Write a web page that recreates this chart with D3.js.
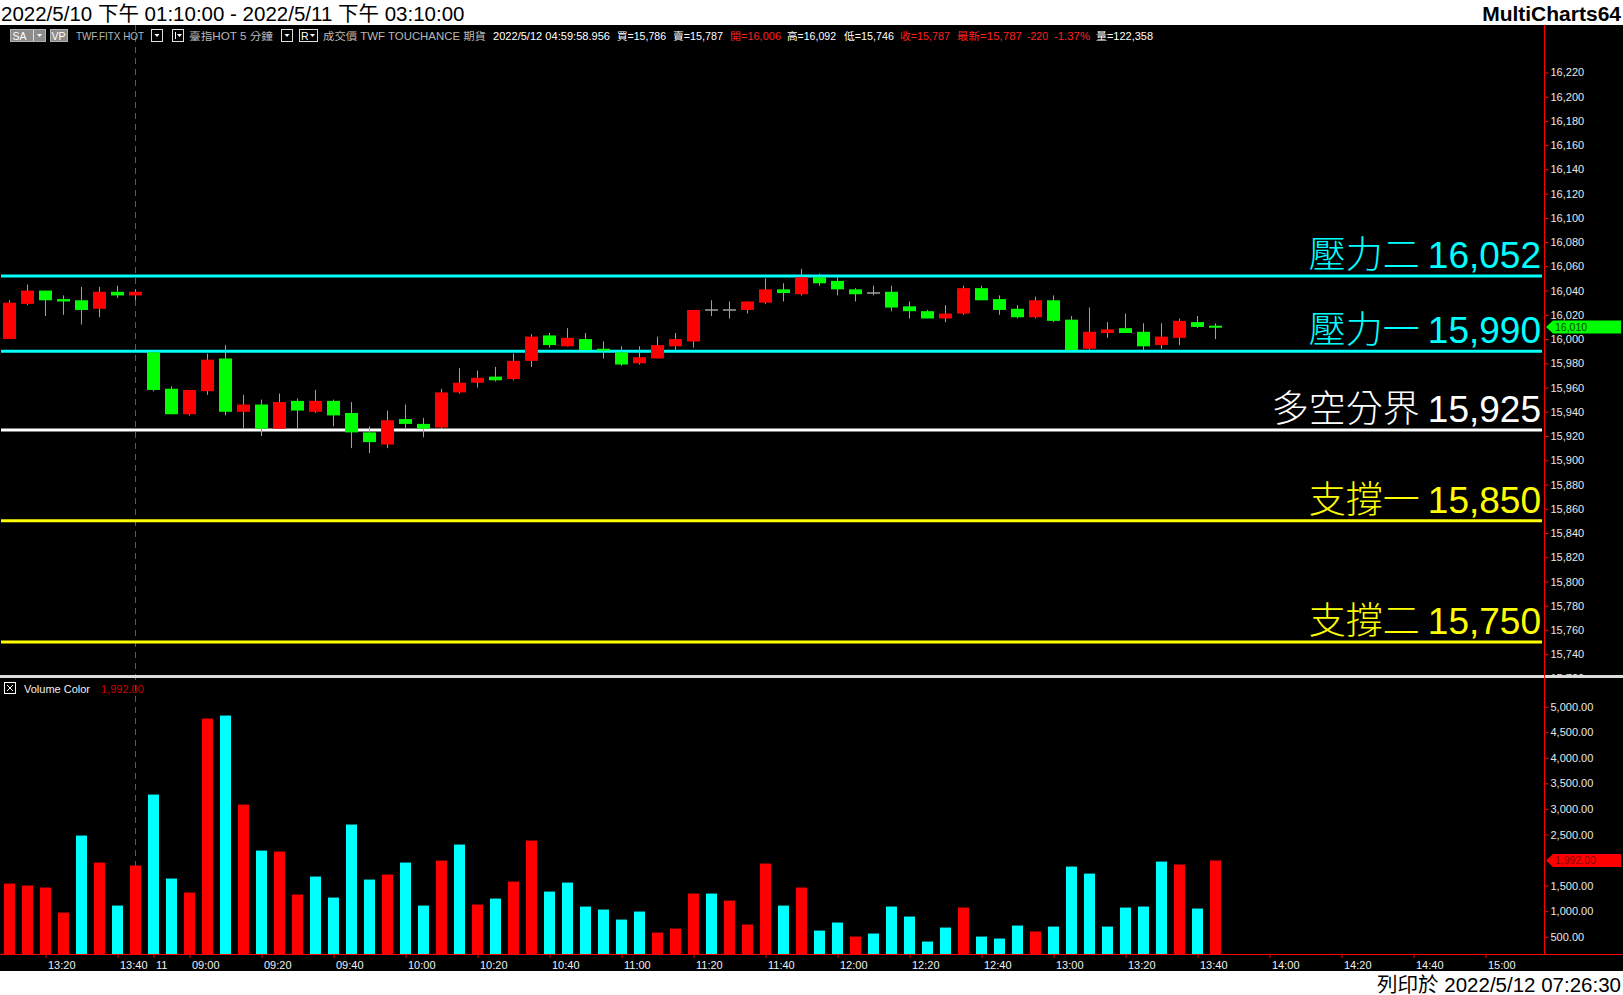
<!DOCTYPE html>
<html><head><meta charset="utf-8">
<script src="https://cdn.jsdelivr.net/npm/d3@7"></script>
<style>
html,body{margin:0;padding:0;background:#fff;overflow:hidden;}
svg{display:block;}
text{font-family:"Liberation Sans","Noto Sans CJK TC",Arial,sans-serif;}
</style></head><body>
<svg id="chart" width="1623" height="995"></svg>
<script>
// ---------------- DATA ----------------
const barTimes = [
 "5/10 13:10","5/10 13:15","5/10 13:20","5/10 13:25","5/10 13:30","5/10 13:35","5/10 13:40","5/10 13:45",
 "5/11 08:50","5/11 08:55","5/11 09:00","5/11 09:05","5/11 09:10","5/11 09:15","5/11 09:20","5/11 09:25",
 "5/11 09:30","5/11 09:35","5/11 09:40","5/11 09:45","5/11 09:50","5/11 09:55","5/11 10:00","5/11 10:05",
 "5/11 10:10","5/11 10:15","5/11 10:20","5/11 10:25","5/11 10:30","5/11 10:35","5/11 10:40","5/11 10:45",
 "5/11 10:50","5/11 10:55","5/11 11:00","5/11 11:05","5/11 11:10","5/11 11:15","5/11 11:20","5/11 11:25",
 "5/11 11:30","5/11 11:35","5/11 11:40","5/11 11:45","5/11 11:50","5/11 11:55","5/11 12:00","5/11 12:05",
 "5/11 12:10","5/11 12:15","5/11 12:20","5/11 12:25","5/11 12:30","5/11 12:35","5/11 12:40","5/11 12:45",
 "5/11 12:50","5/11 12:55","5/11 13:00","5/11 13:05","5/11 13:10","5/11 13:15","5/11 13:20","5/11 13:25",
 "5/11 13:30","5/11 13:35","5/11 13:40","5/11 13:45"];
const futureSlots = [
 "5/11 13:50","5/11 13:55","5/11 14:00","5/11 14:05","5/11 14:10","5/11 14:15","5/11 14:20","5/11 14:25",
 "5/11 14:30","5/11 14:35","5/11 14:40","5/11 14:45","5/11 14:50","5/11 14:55","5/11 15:00","5/11 15:05","5/11 15:10"];

const openPrices = [16000,16029,16040,16033,16032,16025,16039,16036,
 15989,15959,15938,15957,15984,15940,15946,15926,15949,15940,15949,15939,15923,15913,15934,15930,15927,15956,15964,15969,
 15967,15982,16003,15994,16000,15992,15989,15980,15984,15994,15998,16024,16024,16024,16030,16041,16037,16051,16048,16041,
 16038,16039,16027,16023,16017,16021,16042,16033,16025,16018,16032,16016,15992,16005,16009,16006,15995,16001,16014,16011];
const highPrices = [16032,16045,16040,16036,16043,16043,16044,16041,
 15990,15961,15958,15988,15995,15954,15950,15955,15951,15958,15950,15948,15928,15941,15946,15935,15959,15976,15974,15977,
 15988,16004,16005,16009,16005,15998,15994,15994,16002,16005,16024,16032,16031,16031,16050,16046,16058,16054,16051,16042,
 16044,16044,16031,16024,16028,16044,16044,16036,16028,16035,16036,16019,16026,16014,16021,16013,16013,16017,16019,16013];
const lowPrices = [16000,16028,16019,16020,16012,16018,16034,16032,
 15957,15938,15937,15954,15937,15926,15920,15926,15926,15939,15928,15910,15906,15910,15926,15919,15926,15955,15960,15965,
 15966,15977,15993,15994,15991,15984,15978,15979,15984,15991,15993,16019,16017,16021,16029,16031,16036,16044,16036,16031,
 16036,16023,16017,16017,16014,16020,16032,16020,16017,16017,16014,15990,15991,16001,16005,15991,15992,15995,16009,16000];
const closePrices = [16030,16040,16032,16031,16024,16039,16036,16039,
 15958,15938,15958,15983,15940,15946,15926,15948,15941,15949,15937,15923,15915,15933,15930,15926,15956,15964,15968,15966,
 15982,16002,15995,16001,15991,15991,15979,15985,15995,16000,16024,16024,16024,16031,16041,16038,16051,16046,16041,16037,
 16038,16026,16023,16017,16021,16042,16032,16024,16018,16032,16015,15991,16006,16008,16005,15994,16002,16015,16010,16010];

const volumes = [1540,1501,1462,972,2479,1951,1109,1892,
 3281,1638,1364,4768,4827,3085,2185,2166,1325,1677,1266,2694,1618,1716,1951,1109,1990,2303,1129,1246,
 1579,2381,1383,1559,1090,1031,835,992,581,659,1344,1344,1207,738,1931,1109,1462,620,777,503,
 562,1090,894,405,679,1070,503,464,718,601,698,1872,1735,698,1070,1090,1970,1912,1051,1992];
// volume colour flags: 1 = red, 0 = cyan
const volumeRed = [1,1,1,1,0,1,0,1,
 0,0,1,1,0,1,0,1,1,0,0,0,0,1,0,0,1,0,1,0,
 1,1,0,0,0,0,0,0,1,1,1,0,1,1,1,0,1,0,0,1,
 0,0,0,0,0,1,0,0,0,1,0,0,0,0,0,0,0,1,0,1];

const levelValues = [16052, 15990, 15925, 15850, 15750];
const levelNames  = ["壓力二", "壓力一", "多空分界", "支撐一", "支撐二"];
const levelColors = ["#00ffff", "#00ffff", "#ffffff", "#ffff00", "#ffff00"];

const priceTicks = [15720,15740,15760,15780,15800,15820,15840,15860,15880,15900,15920,15940,15960,15980,
 16000,16020,16040,16060,16080,16100,16120,16140,16160,16180,16200,16220];
// 2,000.00 is hidden under the last-volume marker in the reference
const volumeTicks = [500,1000,1500,2500,3000,3500,4000,4500,5000];
const xTickKeys = ["5/10 13:20","5/10 13:40","5/11 08:50","5/11 09:00","5/11 09:20","5/11 09:40","5/11 10:00",
 "5/11 10:20","5/11 10:40","5/11 11:00","5/11 11:20","5/11 11:40","5/11 12:00","5/11 12:20","5/11 12:40",
 "5/11 13:00","5/11 13:20","5/11 13:40","5/11 14:00","5/11 14:20","5/11 14:40","5/11 15:00"];
const xTickLabels = ["13:20","13:40","11","09:00","09:20","09:40","10:00","10:20","10:40","11:00","11:20","11:40",
 "12:00","12:20","12:40","13:00","13:20","13:40","14:00","14:20","14:40","15:00"];

const lastPrice = 16010;
const lastVolume = 1992;
const titleText = "2022/5/10 下午 01:10:00 - 2022/5/11 下午 03:10:00";
const printText = "列印於 2022/5/12 07:26:30";
const statusTexts = ["TWF.FITX HOT","臺指HOT  5 分鐘","成交價  TWF  TOUCHANCE  期貨","2022/5/12  04:59:58.956",
 "買=15,786","賣=15,787","開=16,006","高=16,092","低=15,746","收=15,787","最新=15,787","-220","-1.37%","量=122,358"];
const statusRed = [0,0,0,0,0,0,1,0,0,1,1,1,1,0];
const statusGrey = [1,1,1,0,0,0,0,0,0,0,0,0,0,0];

// ---------------- LAYOUT ----------------
const W = 1623, H = 995;
const axisX = 1544, priceTop = 25, priceBottom = 675, volTop = 678, volBottom = 954;
const allSlots = barTimes.concat(futureSlots);

const x = d3.scaleLinear().domain([-0.5, allSlots.length + 0.25]).range([0, 1543.5]);
const yP = d3.scaleLinear().domain([15740, 16220]).range([654.2, 72.4]);
const yV = d3.scaleLinear().domain([500, 5000]).range([936.7, 706.7]);

const svg = d3.select("#chart");
const defs = svg.append("defs");
defs.append("clipPath").attr("id","clipPrice").append("rect").attr("x",0).attr("y",priceTop).attr("width",axisX).attr("height",priceBottom-priceTop);
defs.append("clipPath").attr("id","clipPA").append("rect").attr("x",axisX).attr("y",priceTop+22).attr("width",W-axisX).attr("height",priceBottom-priceTop-22);
defs.append("clipPath").attr("id","clipVA").append("rect").attr("x",axisX).attr("y",volTop).attr("width",W-axisX).attr("height",volBottom-volTop);

// backgrounds
svg.append("rect").attr("x",0).attr("y",0).attr("width",W).attr("height",H).attr("fill","#fff");
svg.append("rect").attr("x",0).attr("y",priceTop).attr("width",W).attr("height",971-priceTop).attr("fill","#000");

// title texts
svg.append("text").attr("x",1).attr("y",21).attr("font-size",20.5).attr("fill","#000").text(titleText);
svg.append("text").attr("x",1621).attr("y",21).attr("text-anchor","end").attr("font-size",21).attr("font-weight","bold").attr("fill","#000").text("MultiCharts64");
svg.append("text").attr("x",1621).attr("y",992).attr("text-anchor","end").attr("font-size",20.5).attr("fill","#000").text(printText);

// session break dashed line
const breakIdx = allSlots.indexOf("5/10 13:45");
svg.append("line").attr("x1",Math.round(x(breakIdx))+0.5).attr("x2",Math.round(x(breakIdx))+0.5)
  .attr("y1",priceTop).attr("y2",volBottom).attr("stroke","#5a5a5a").attr("stroke-width",1).attr("stroke-dasharray","6,5");

// ---------------- PRICE PANE ----------------
const gP = svg.append("g").attr("clip-path","url(#clipPrice)");

levelValues.forEach((v,k)=>{
  gP.append("line").attr("x1",1).attr("x2",axisX-2).attr("y1",yP(v)).attr("y2",yP(v))
    .attr("stroke",levelColors[k]).attr("stroke-width",3);
});

const candles = gP.selectAll("g.c").data(barTimes.map((t,i)=>({i,o:openPrices[i],h:highPrices[i],l:lowPrices[i],c:closePrices[i]})))
  .enter().append("g").attr("class","c");
candles.append("line")
  .attr("x1",d=>Math.round(x(d.i))+0.5).attr("x2",d=>Math.round(x(d.i))+0.5)
  .attr("y1",d=>yP(d.h)).attr("y2",d=>yP(d.l)).attr("stroke","#a0a0a0").attr("stroke-width",1);
candles.append("rect")
  .attr("x",d=>Math.round(x(d.i))-6).attr("width",13)
  .attr("y",d=>d.o===d.c ? yP(d.o)-0.75 : yP(Math.max(d.o,d.c)))
  .attr("height",d=>d.o===d.c ? 1.5 : Math.max(2, Math.abs(yP(d.o)-yP(d.c))))
  .attr("fill",d=>d.c>d.o ? "#ff0000" : (d.c<d.o ? "#00ff00" : "#a0a0a0"));

levelValues.forEach((v,k)=>{
  const t = svg.append("text").attr("x",1541).attr("y",yP(v)-8).attr("text-anchor","end")
    .attr("fill",levelColors[k]).attr("font-size",37);
  t.append("tspan").style("font-family",'"Noto Sans CJK TC",sans-serif').attr("font-weight",300).text(levelNames[k]+" ");
  t.append("tspan").style("font-family",'"Liberation Sans",Arial,sans-serif').text(d3.format(",")(v));
});

// price axis
const gPAo = svg.append("g").attr("clip-path","url(#clipPA)");
const gPA = gPAo.append("g").attr("transform",`translate(${axisX+0.5},0)`)
  .call(d3.axisRight(yP).tickValues(priceTicks).tickFormat(d3.format(",")).tickSize(4).tickPadding(2));
gPA.select(".domain").remove();
gPA.selectAll(".tick line").attr("stroke","#ff0000");
gPA.selectAll(".tick text").attr("fill","#e8e8e8").attr("font-size",11).style("font-family",'"Liberation Sans",Arial,sans-serif');

function marker(y, fill, txtFill, label){
  const g = svg.append("g");
  g.append("path").attr("d",`M1546,${y} L1553,${y-6.5} L1621,${y-6.5} L1621,${y+6.5} L1553,${y+6.5} Z`).attr("fill",fill);
  g.append("text").attr("x",1555).attr("y",y+4).attr("font-size",10.5).attr("fill",txtFill).text(label);
}
marker(yP(lastPrice), "#00ff00", "#004400", d3.format(",")(lastPrice));

// separator
svg.append("rect").attr("x",0).attr("y",priceBottom).attr("width",W).attr("height",3).attr("fill","#dcdcdc");

// ---------------- VOLUME PANE ----------------
svg.append("g").selectAll("rect").data(volumes).enter().append("rect")
  .attr("x",(v,i)=>Math.round(x(i))-5).attr("width",11)
  .attr("y",v=>yV(v)).attr("height",v=>volBottom-yV(v))
  .attr("fill",(v,i)=>volumeRed[i] ? "#ff0000" : "#00ffff");

const gVAo = svg.append("g").attr("clip-path","url(#clipVA)");
const gVA = gVAo.append("g").attr("transform",`translate(${axisX+0.5},0)`)
  .call(d3.axisRight(yV).tickValues(volumeTicks).tickFormat(d3.format(",.2f")).tickSize(4).tickPadding(2));
gVA.select(".domain").remove();
gVA.selectAll(".tick line").attr("stroke","#ff0000");
gVA.selectAll(".tick text").attr("fill","#e8e8e8").attr("font-size",11).style("font-family",'"Liberation Sans",Arial,sans-serif');

marker(yV(lastVolume), "#ff0000", "#8a0000", d3.format(",.2f")(lastVolume));

// volume header
svg.append("rect").attr("x",4.5).attr("y",682.5).attr("width",11).attr("height",11).attr("fill","none").attr("stroke","#fff");
svg.append("path").attr("d","M7,685 L13,691 M13,685 L7,691").attr("stroke","#fff").attr("stroke-width",1);
svg.append("text").attr("x",24).attr("y",693).attr("font-size",11).attr("fill","#f0f0f0").text("Volume Color");
svg.append("text").attr("x",101).attr("y",693).attr("font-size",11).attr("fill","#cc0000").text(d3.format(",.2f")(lastVolume));

// right axis red line
svg.append("line").attr("x1",axisX+0.5).attr("x2",axisX+0.5).attr("y1",priceTop).attr("y2",volBottom).attr("stroke","#ff0000");

// ---------------- X AXIS ----------------
svg.append("line").attr("x1",0).attr("x2",W).attr("y1",volBottom+0.5).attr("y2",volBottom+0.5).attr("stroke","#ff0000");
const xTickIdx = xTickKeys.map(k=>allSlots.indexOf(k));
const gX = svg.append("g").attr("transform",`translate(0.5,${volBottom})`)
  .call(d3.axisBottom(x).tickValues(xTickIdx).tickFormat((d,k)=>xTickLabels[k]).tickSize(4).tickPadding(3));
gX.select(".domain").remove();
gX.selectAll(".tick").attr("transform",d=>`translate(${Math.round(x(d))+0.5},0)`);
gX.selectAll(".tick line").attr("stroke","#ff0000");
gX.selectAll(".tick text").attr("text-anchor","start").attr("x",2).attr("fill","#f0f0f0").attr("font-size",11)
  .style("font-family",'"Liberation Sans",Arial,sans-serif');

// ---------------- STATUS BAR ----------------
const sb = svg.append("g").attr("font-size",10.5);
const sy = 40;
function box(x0,w,fill,stroke){ sb.append("rect").attr("x",x0+0.5).attr("y",29.5).attr("width",w).attr("height",12).attr("fill",fill).attr("stroke",stroke); }
function tri(cx){ sb.append("path").attr("d",`M${cx-2.5},34 L${cx+2.5},34 L${cx},37 Z`).attr("fill","#fff"); }
box(10,35,"#8c8c8c","#b0b0b0");
sb.append("text").attr("x",12.5).attr("y",sy).attr("fill","#fff").text("SA");
sb.append("line").attr("x1",33.5).attr("x2",33.5).attr("y1",30).attr("y2",41).attr("stroke","#ddd"); tri(39.5);
box(50,17,"#8c8c8c","#b0b0b0");
sb.append("text").attr("x",51.5).attr("y",sy).attr("fill","#fff").text("VP");
box(151,11,"#000","#e0e0e0"); tri(157);
box(172,11,"#000","#e0e0e0"); sb.append("line").attr("x1",175.5).attr("x2",175.5).attr("y1",32).attr("y2",39).attr("stroke","#fff"); tri(179.5);
box(281,11,"#000","#e0e0e0"); tri(287);
box(299,18,"#000","#e0e0e0");
sb.append("text").attr("x",301).attr("y",sy).attr("fill","#fff").text("R"); tri(312.5);

// status texts placed at the reference's positions and widths
const statusX = [76,189,323,493,617,673,730,787,844,900,957,1027,1054,1096];
const statusW = [68,84,163,117,49,50,51,49,50,50,65,21,36,57];
statusTexts.forEach((s,k)=>{
  sb.append("text").attr("x",statusX[k]).attr("y",sy)
    .attr("fill",statusRed[k] ? "#ff2020" : (statusGrey[k] ? "#b8b8b8" : "#ffffff"))
    .attr("textLength",statusW[k]).attr("lengthAdjust","spacingAndGlyphs").text(s);
});
</script>
</body></html>
